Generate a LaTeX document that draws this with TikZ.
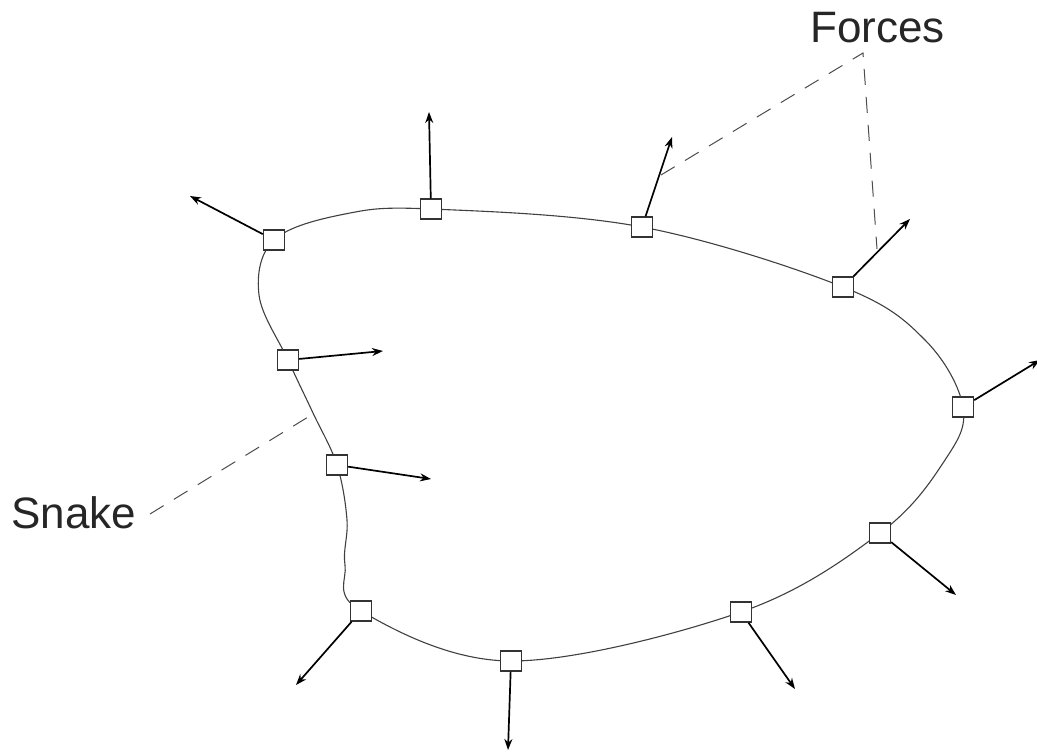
\documentclass[tikz,border=0pt]{standalone}
\usepackage{fontspec}
\setmainfont{Liberation Sans}
\usetikzlibrary{arrows.meta}
\begin{document}
\begin{tikzpicture}[x=1pt,y=-1pt,
  pt/.style={draw=black!80,line width=1.4pt,fill=white,minimum width=21pt,minimum height=20pt,inner sep=0pt},
  force/.style={line width=1.7pt,-{Stealth[length=11pt,width=8pt]}},
  lead/.style={line width=1pt,black!70,dash pattern=on 16pt off 12pt},
  lab/.style={font=\fontsize{44}{50}\selectfont,text=black!85,inner sep=0pt,anchor=base west}]
\useasboundingbox (0,0) rectangle (1037,754);
% snake curve
\draw[line width=1.1pt,black!75] plot[smooth cycle,tension=0.6] coordinates {
 (274,240) (259,295) (288,360) (313,413) (337,465) (347,520) (345,565) (361,611)
 (511,661) (741,612) (880,533) (945,460) (963,407)
 (925,340) (843,287) (642,227) (431,209) (345,214)};
% control points
\node[pt] (s1) at (274,240) {};
\node[pt] (s2) at (431,209) {};
\node[pt] (s3) at (642,227) {};
\node[pt] (s4) at (843,287) {};
\node[pt] (s5) at (963,407) {};
\node[pt] (s6) at (880,533) {};
\node[pt] (s7) at (741,612) {};
\node[pt] (s8) at (511,661) {};
\node[pt] (s9) at (361,611) {};
\node[pt] (s10) at (337,465) {};
\node[pt] (s11) at (288,360) {};
% force targets
\coordinate (t1) at (190,196);
\coordinate (t2) at (429,112);
\coordinate (t3) at (672,137);
\coordinate (t4) at (910,219);
\coordinate (t5) at (1040,360);
\coordinate (t6) at (956,595);
\coordinate (t7) at (795,689);
\coordinate (t8) at (508,750);
\coordinate (t9) at (296,685);
\coordinate (t10) at (431,479);
\coordinate (t11) at (383,351);
\foreach \i in {1,...,11} {\draw[force] (s\i) -- (t\i);}
% labels
\node[lab] (forces) at (810,43) {Forces};
\node[lab] (snake) at (11,528) {Snake};
\coordinate (apex) at (863,53);
\coordinate (f1) at (661,175);
\coordinate (f2) at (877,249);
\coordinate (sn1) at (150,514);
\coordinate (sn2) at (313,414);
\draw[lead] (f1) -- (apex) -- (f2);
\draw[lead] (sn1) -- (sn2);
\end{tikzpicture}
\end{document}
